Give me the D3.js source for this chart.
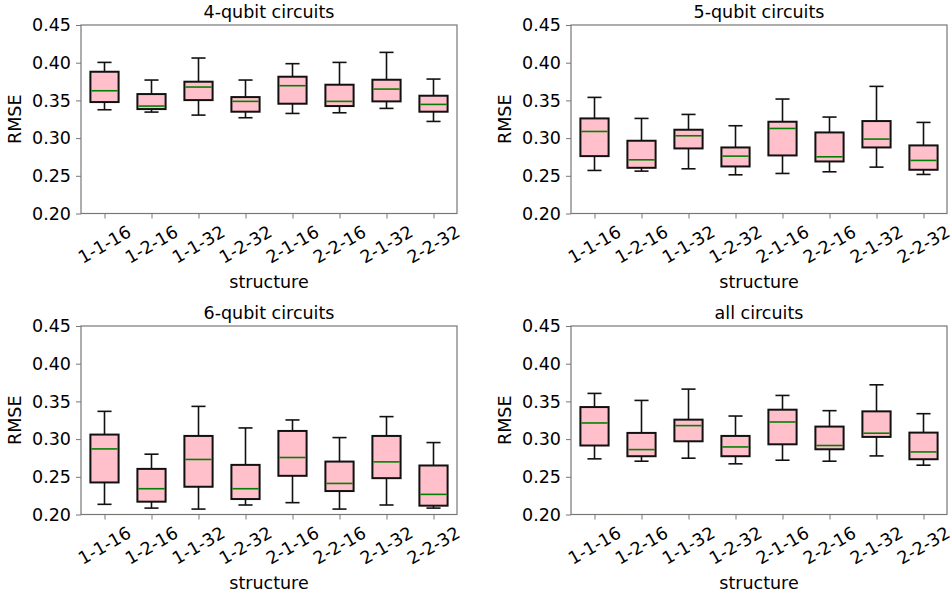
<!DOCTYPE html>
<html><head><meta charset="utf-8">
<script src="https://cdn.jsdelivr.net/npm/d3@7"></script>
<style>
body{margin:0;background:#fff;}
svg text{font-family:"DejaVu Sans",sans-serif;fill:#000;}
</style></head>
<body><svg id="c" width="952" height="603"></svg>
<script>
const categories = ["1-1-16","1-2-16","1-1-32","1-2-32","2-1-16","2-2-16","2-1-32","2-2-32"];
const yTicks = [0.20,0.25,0.30,0.35,0.40,0.45];
const titles = ["4-qubit circuits","5-qubit circuits","6-qubit circuits","all circuits"];
// each box: [whiskerLow, Q1, median, Q3, whiskerHigh]
const q4 = [
 [0.3376,0.3478,0.3628,0.3880,0.4004],
 [0.3345,0.3385,0.3425,0.3584,0.3770],
 [0.3305,0.3504,0.3677,0.3748,0.4062],
 [0.3270,0.3350,0.3487,0.3544,0.3770],
 [0.3327,0.3456,0.3695,0.3814,0.3987],
 [0.3336,0.3425,0.3487,0.3708,0.4004],
 [0.3394,0.3487,0.3650,0.3774,0.4137],
 [0.3221,0.3350,0.3447,0.3562,0.3783]];
const q5 = [
 [0.2571,0.2761,0.3088,0.3261,0.3540],
 [0.2562,0.2606,0.2712,0.2965,0.3261],
 [0.2593,0.2863,0.3031,0.3111,0.3314],
 [0.2513,0.2624,0.2761,0.2876,0.3164],
 [0.2531,0.2770,0.3128,0.3217,0.3518],
 [0.2553,0.2690,0.2752,0.3075,0.3279],
 [0.2615,0.2876,0.2987,0.3226,0.3686],
 [0.2518,0.2580,0.2704,0.2903,0.3208]];
const q6 = [
 [0.2135,0.2425,0.2870,0.3060,0.3368],
 [0.2085,0.2170,0.2342,0.2605,0.2800],
 [0.2072,0.2368,0.2730,0.3042,0.3434],
 [0.2126,0.2205,0.2342,0.2658,0.3148],
 [0.2157,0.2513,0.2756,0.3108,0.3254],
 [0.2072,0.2311,0.2412,0.2702,0.3020],
 [0.2126,0.2482,0.2698,0.3042,0.3298],
 [0.2085,0.2117,0.2267,0.2650,0.2954]];
const qAll = [
 [0.2738,0.2915,0.3214,0.3425,0.3606],
 [0.2707,0.2773,0.2861,0.3082,0.3513],
 [0.2747,0.2971,0.3179,0.3258,0.3663],
 [0.2672,0.2773,0.2896,0.3042,0.3306],
 [0.2720,0.2931,0.3227,0.3390,0.3579],
 [0.2707,0.2865,0.2915,0.3166,0.3377],
 [0.2777,0.3029,0.3078,0.3368,0.3720],
 [0.2654,0.2733,0.2830,0.3086,0.3337]];
const panels = [q4,q5,q6,qAll];

const svg = d3.select("#c");
const W = 376, H = 188.5;
const origins = [[81,25],[571,25],[81,326],[571,326]];
const FS = 17.5;

panels.forEach((data,pi)=>{
  const [ox,oy] = origins[pi];
  const g = svg.append("g").attr("transform",`translate(${ox},${oy})`);
  const x = d3.scaleLinear().domain([0.5,8.5]).range([0,W]);
  const y = d3.scaleLinear().domain([0.20,0.45]).range([H,0]);
  const bw = x(0.6)-x(0);
  const cw = bw/2;

  data.forEach((d,i)=>{
    const cx = x(i+1);
    const b = g.append("g");
    b.append("line").attr("x1",cx).attr("x2",cx).attr("y1",y(d[0])).attr("y2",y(d[1]))
      .attr("stroke","#111").attr("stroke-width",1.6);
    b.append("line").attr("x1",cx).attr("x2",cx).attr("y1",y(d[3])).attr("y2",y(d[4]))
      .attr("stroke","#111").attr("stroke-width",1.6);
    b.append("line").attr("x1",cx-cw/2).attr("x2",cx+cw/2).attr("y1",y(d[0])).attr("y2",y(d[0]))
      .attr("stroke","#111").attr("stroke-width",1.6);
    b.append("line").attr("x1",cx-cw/2).attr("x2",cx+cw/2).attr("y1",y(d[4])).attr("y2",y(d[4]))
      .attr("stroke","#111").attr("stroke-width",1.6);
    b.append("rect").attr("x",cx-bw/2).attr("y",y(d[3])).attr("width",bw).attr("height",y(d[1])-y(d[3]))
      .attr("fill","pink").attr("stroke","#111").attr("stroke-width",2);
    b.append("line").attr("x1",cx-bw/2+1).attr("x2",cx+bw/2-1).attr("y1",y(d[2])).attr("y2",y(d[2]))
      .attr("stroke","#008000").attr("stroke-width",1.6);
  });

  const yAxis = d3.axisLeft(y).tickValues(yTicks).tickFormat(d3.format(".2f")).tickSize(5).tickPadding(5);
  const ya = g.append("g").call(yAxis);
  ya.select(".domain").remove();
  ya.selectAll(".tick line").attr("stroke","#777").attr("stroke-width",1);
  ya.selectAll(".tick text").attr("font-size",FS).attr("fill","#000").style("font-family","DejaVu Sans");

  const xAxis = d3.axisBottom(x).tickValues(d3.range(1,9)).tickFormat("").tickSize(5);
  const xa = g.append("g").attr("transform",`translate(0,${H})`).call(xAxis);
  xa.select(".domain").remove();
  xa.selectAll(".tick line").attr("stroke","#777").attr("stroke-width",1);

  categories.forEach((c,i)=>{
    g.append("text").attr("transform",`translate(${x(i+1)},${H+31}) rotate(-30)`)
      .attr("text-anchor","middle").attr("dy","0.35em").attr("font-size",FS).text(c);
  });

  g.append("rect").attr("x",0).attr("y",0).attr("width",W).attr("height",H)
    .attr("fill","none").attr("stroke","#777").attr("stroke-width",1.2);

  g.append("text").attr("x",W/2).attr("y",-7).attr("text-anchor","middle").attr("font-size",FS).text(titles[pi]);
  g.append("text").attr("transform",`translate(${-60},${H/2}) rotate(-90)`).attr("text-anchor","middle")
    .attr("font-size",FS).text("RMSE");
  g.append("text").attr("x",W/2).attr("y",H+74).attr("text-anchor","middle").attr("font-size",FS).text("structure");
});
</script></body></html>
